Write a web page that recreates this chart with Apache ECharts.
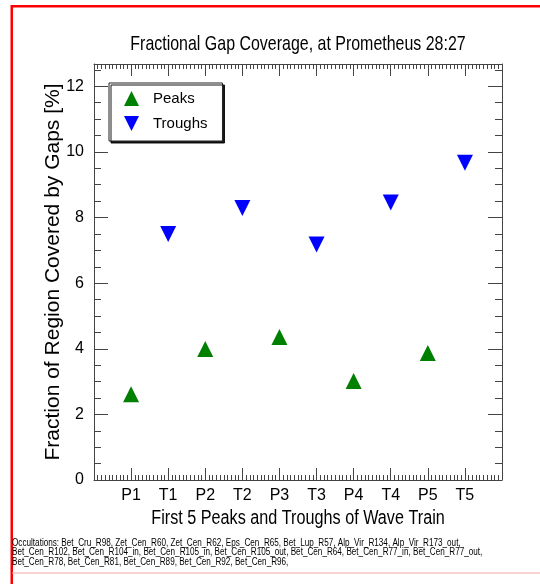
<!DOCTYPE html>
<html>
<head>
<meta charset="utf-8">
<script src="https://cdn.jsdelivr.net/npm/echarts@6/dist/echarts.min.js"></script>
<style>
html,body{margin:0;padding:0;background:#fff;}
#c{width:540px;height:584px;}
</style>
</head>
<body>
<div id="c"></div>
<script>
const categories = ['P1','T1','P2','T2','P3','T3','P4','T4','P5','T5'];
const peakCats = ['P1','P2','P3','P4','P5'];
const peakValues = [2.61, 3.99, 4.36, 3.02, 3.87];
const troughCats = ['T1','T2','T3','T4','T5'];
const troughValues = [7.50, 8.29, 7.18, 8.46, 9.67];
const yTicks = [0, 2, 4, 6, 8, 10, 12];
const titleText = 'Fractional Gap Coverage, at Prometheus 28:27';
const xName = 'First 5 Peaks and Troughs of Wave Train';
const yName = 'Fraction of Region Covered by Gaps [%]';
const footerLines = [
  'Occultations: Bet_Cru_R98, Zet_Cen_R60, Zet_Cen_R62, Eps_Cen_R65, Bet_Lup_R57, Alp_Vir_R134, Alp_Vir_R173_out,',
  'Bet_Cen_R102, Bet_Cen_R104_in, Bet_Cen_R105_in, Bet_Cen_R105_out, Bet_Cen_R64, Bet_Cen_R77_in, Bet_Cen_R77_out,',
  'Bet_Cen_R78, Bet_Cen_R81, Bet_Cen_R89, Bet_Cen_R92, Bet_Cen_R96,'
];

const FONT = "'Liberation Sans', Arial, Helvetica, sans-serif";
const AX = '#444';
const upTri = 'path://M5,0 L10,10 L0,10 Z';
const downTri = 'path://M0,0 L10,0 L5,10 Z';

const chart = echarts.init(document.getElementById('c'), null, {renderer:'canvas'});

function xAxisBase(pos, showLabels) {
  return {
    type: 'value', position: pos, min: 0, max: 11, interval: 1,
    axisLine: {show: true, onZero: false, lineStyle: {color: AX, width: 1}},
    axisTick: {show: true, inside: true, length: 12, lineStyle: {color: AX}},
    minorTick: {show: true, splitNumber: 10, length: 5, lineStyle: {color: AX}},
    splitLine: {show: false}, minorSplitLine: {show: false},
    axisLabel: showLabels ? {
      show: true, margin: 8, color: '#000', fontFamily: FONT, fontSize: 16,
      formatter: v => categories[Math.round(v) - 1] || ''
    } : {show: false}
  };
}
function yAxisBase(pos, showLabels) {
  return {
    type: 'value', position: pos, min: 0, max: 12.68, interval: 2,
    axisLine: {show: true, onZero: false, lineStyle: {color: AX, width: 1}},
    axisTick: {show: true, inside: true, length: 14, lineStyle: {color: AX}},
    minorTick: {show: true, splitNumber: 4, length: 7, lineStyle: {color: AX}},
    splitLine: {show: false}, minorSplitLine: {show: false},
    axisLabel: showLabels ? {
      show: true, margin: 10, color: '#000', fontFamily: FONT, fontSize: 16,
      formatter: v => (yTicks.indexOf(v) >= 0 ? String(v) : '')
    } : {show: false}
  };
}

const yl = yAxisBase('left', true);
yl.name = yName; yl.nameLocation = 'middle'; yl.nameGap = 30; yl.nameMoveOverlap = false;
yl.nameTextStyle = {color: '#000', fontFamily: FONT, fontSize: 21};

const option = {
  backgroundColor: '#fff',
  animation: false,
  grid: {left: 94, right: 38, top: 64, bottom: 104},
  xAxis: [xAxisBase('bottom', true), xAxisBase('top', false)],
  yAxis: [yl, yAxisBase('right', false)],
  legend: {
    orient: 'vertical', left: 109, top: 83,
    padding: [8, 15, 10, 15],
    itemWidth: 15, itemHeight: 15, itemGap: 10,
    backgroundColor: '#fff', borderColor: '#222', borderWidth: 1,
    shadowColor: 'rgba(0,0,0,0.9)', shadowBlur: 0, shadowOffsetX: 2, shadowOffsetY: 2,
    textStyle: {color: '#000', fontFamily: FONT, fontSize: 15, padding: [0, 0, 0, 9]},
    data: ['Peaks', 'Troughs']
  },
  series: [
    {
      name: 'Peaks', type: 'scatter', symbol: upTri, symbolSize: [16, 16],
      itemStyle: {color: '#008000', opacity: 1},
      data: peakCats.map((c, i) => [categories.indexOf(c) + 1, peakValues[i]])
    },
    {
      name: 'Troughs', type: 'scatter', symbol: downTri, symbolSize: [16, 16],
      itemStyle: {color: '#0000ff', opacity: 1},
      data: troughCats.map((c, i) => [categories.indexOf(c) + 1, troughValues[i]])
    }
  ],
  graphic: [
    {type: 'text', x: 298, y: 44, scaleX: 0.76, style: {text: titleText, fill: '#000', font: '21px ' + FONT, textAlign: 'center', textVerticalAlign: 'middle'}},
    {type: 'text', x: 298, y: 518, scaleX: 0.81, style: {text: xName, fill: '#000', font: '20px ' + FONT, textAlign: 'center', textVerticalAlign: 'middle'}},
    {type: 'rect', shape: {x: 11, y: 5, width: 529, height: 2.5}, style: {fill: '#ff0000'}},
    {type: 'rect', shape: {x: 10.5, y: 5, width: 2.5, height: 579}, style: {fill: '#ff0000'}},
    {type: 'rect', shape: {x: 12, y: 572.5, width: 528, height: 1}, style: {fill: '#f4a8a8'}},
    ...footerLines.map((t, i) => ({
      type: 'text', x: 12, y: 543 + i * 9.7, scaleX: 0.815,
      style: {text: t, fill: '#000', font: '10px ' + FONT, textAlign: 'left', textVerticalAlign: 'middle'}
    }))
  ]
};
chart.setOption(option);
</script>
</body>
</html>
